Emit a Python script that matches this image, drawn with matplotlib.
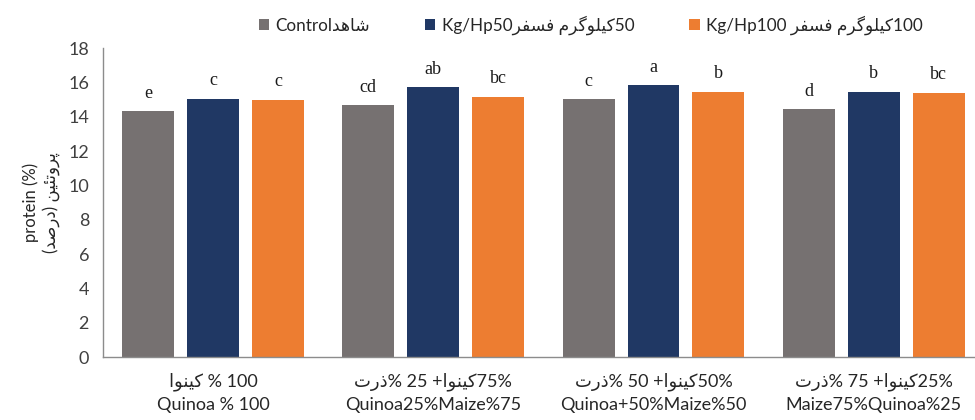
"""Protein (%) by quinoa/maize mix and phosphorus rate."""
import numpy as np
import matplotlib.pyplot as plt
plt.rcParams["text.parse_math"] = False
plt.rcParams["font.family"] = ["Lato", "DejaVu Sans"]

# --- data -----------------------------------------------------------------
series = ["control", "p50", "p100"]
colors = ["#767171", "#203864", "#ED7D31"]
protein = {
    "control": [14.33, 14.68, 15.03, 14.44],
    "p50":     [15.05, 15.72, 15.82, 15.45],
    "p100":    [14.99, 15.17, 15.45, 15.40],
}
letters = {
    "control": ["e", "cd", "c", "d"],
    "p50":     ["c", "ab", "a", "b"],
    "p100":    ["c", "bc", "b", "bc"],
}
yticks = list(range(0, 19, 2))

# --- minimal Persian shaping (matplotlib does no shaping / bidi) ----------
FORMS = {  # isolated, final, initial, medial
    "ا": ("\uFE8D", "\uFE8E", None, None),
    "د": ("\uFEA9", "\uFEAA", None, None),
    "ذ": ("\uFEAB", "\uFEAC", None, None),
    "ر": ("\uFEAD", "\uFEAE", None, None),
    "و": ("\uFEED", "\uFEEE", None, None),
    "ت": ("\uFE95", "\uFE96", "\uFE97", "\uFE98"),
    "س": ("\uFEB1", "\uFEB2", "\uFEB3", "\uFEB4"),
    "ش": ("\uFEB5", "\uFEB6", "\uFEB7", "\uFEB8"),
    "ص": ("\uFEB9", "\uFEBA", "\uFEBB", "\uFEBC"),
    "ف": ("\uFED1", "\uFED2", "\uFED3", "\uFED4"),
    "ل": ("\uFEDD", "\uFEDE", "\uFEDF", "\uFEE0"),
    "م": ("\uFEE1", "\uFEE2", "\uFEE3", "\uFEE4"),
    "ن": ("\uFEE5", "\uFEE6", "\uFEE7", "\uFEE8"),
    "ه": ("\uFEE9", "\uFEEA", "\uFEEB", "\uFEEC"),
    "ئ": ("\uFE89", "\uFE8A", "\uFE8B", "\uFE8C"),
    "ک": ("\uFB8E", "\uFB8F", "\uFB90", "\uFB91"),
    "گ": ("\uFB92", "\uFB93", "\uFB94", "\uFB95"),
    "پ": ("\uFB56", "\uFB57", "\uFB58", "\uFB59"),
    "ی": ("\uFBFC", "\uFBFD", "\uFBFE", "\uFBFF"),
}


def ar(word):
    out = []
    for i, ch in enumerate(word):
        f = FORMS[ch]
        prev_ok = i > 0 and FORMS[word[i - 1]][2] is not None
        next_ok = i < len(word) - 1 and f[2] is not None
        if prev_ok and next_ok:
            out.append(f[3])
        elif prev_ok:
            out.append(f[1])
        elif next_ok:
            out.append(f[2])
        else:
            out.append(f[0])
    return "".join(reversed(out))


legend_labels = [
    "Control" + ar("شاهد"),
    "Kg/Hp50" + ar("فسفر") + " " + ar("کیلوگرم") + "50",
    "Kg/Hp100 " + ar("فسفر") + " " + ar("کیلوگرم") + "100",
]
xlabels = [
    ar("کینوا") + " % 100\nQuinoa % 100",
    ar("ذرت") + "% 25 +" + ar("کینوا") + "75%\nQuinoa25%Maize%75",
    ar("ذرت") + "% 50 +" + ar("کینوا") + "50%\nQuinoa+50%Maize%50",
    ar("ذرت") + "% 75 +" + ar("کینوا") + "25%\nMaize75%Quinoa%25",
]
ylabel = "protein (%)\n(" + ar("درصد") + ") " + ar("پروتئین")

# --- plot -----------------------------------------------------------------
fig = plt.figure(figsize=(9.75, 4.2), dpi=100)
ax = fig.add_axes([0.1056, 0.15, 0.8944, 0.7357])

x = np.arange(len(xlabels))
width = 0.236
step = 0.295
for i, s in enumerate(series):
    xs = x + (i - 1) * step
    ax.bar(xs, protein[s], width, color=colors[i], label=legend_labels[i])
    for xi, v, lab in zip(xs, protein[s], letters[s]):
        ax.text(xi, v + 0.55, lab, ha="center", va="bottom",
                family="Liberation Serif", fontsize=13, color="#1a1a1a")

ax.set_xlim(-0.5, 3.46)
ax.set_ylim(0, 18)
ax.set_yticks(yticks)
ax.set_xticks(x)
ax.set_xticklabels(xlabels, fontsize=13, color="#262626", linespacing=1.45)
ax.tick_params(axis="x", length=0, pad=11)
ax.tick_params(axis="y", length=0, pad=10, labelsize=13, labelcolor="#404040")
for side in ("top", "right"):
    ax.spines[side].set_visible(False)
for side in ("left", "bottom"):
    ax.spines[side].set_color("#8c8c8c")
    ax.spines[side].set_linewidth(1.0)
ax.set_ylabel(ylabel, fontsize=12, color="#262626", linespacing=1.2, labelpad=6)

fig.legend(loc="upper center", bbox_to_anchor=(0.606, 1.0), ncol=3, frameon=False,
           fontsize=12.3, handlelength=0.6, handleheight=0.6, handletextpad=0.4,
           columnspacing=3.2, labelcolor="#262626")

fig.savefig("out.png", dpi=100)
